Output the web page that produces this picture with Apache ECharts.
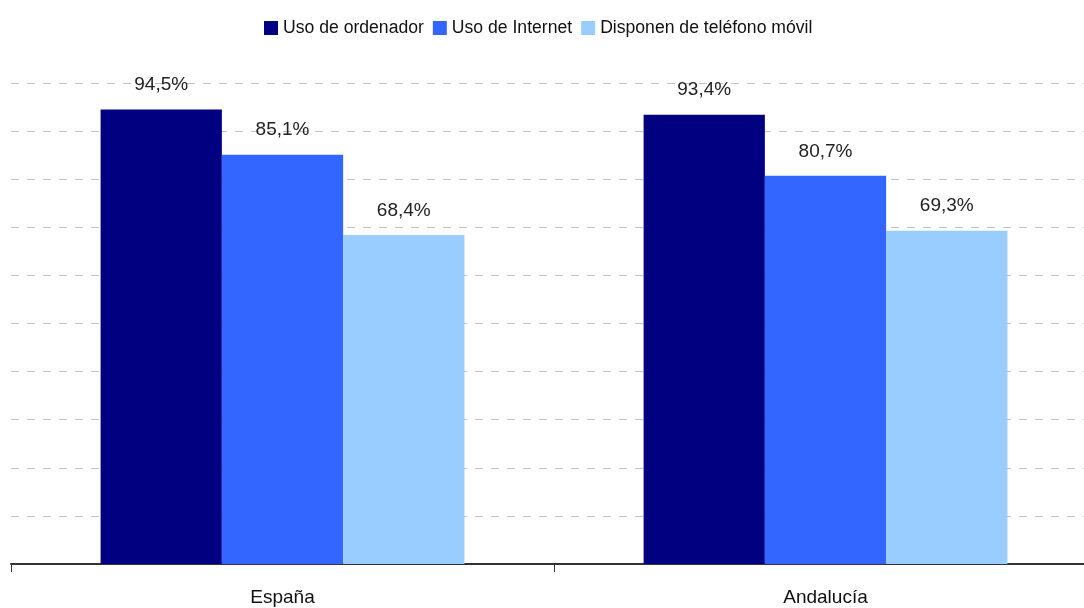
<!DOCTYPE html>
<html>
<head>
<meta charset="utf-8">
<script src="https://cdn.jsdelivr.net/npm/echarts@6/dist/echarts.min.js"></script>
<style>
  html, body { margin: 0; padding: 0; background: #fff; overflow: hidden; }
  /* the plot area runs a little past the right edge of the window */
  #chart { width: 1097px; height: 608px; }
</style>
</head>
<body>
<div id="chart"></div>
<script>
const regions = ["España", "Andalucía"];
const seriesNames = ["Uso de ordenador", "Uso de Internet", "Disponen de teléfono móvil"];
const ordenador = [94.5, 93.4];
const internet = [85.1, 80.7];
const movil = [68.4, 69.3];
const colors = ["#000080", "#3366ff", "#99ccff"];

const FONT = "'Liberation Sans Narrow', 'Arial Narrow', 'Liberation Sans', sans-serif";

function fmt(v) {
  return v.toFixed(1).replace('.', ',') + '%';
}

const chart = echarts.init(document.getElementById("chart"));

const values = [ordenador, internet, movil];
const series = seriesNames.map((name, i) => ({
  name: name,
  type: 'bar',
  data: values[i],
  barGap: '0%',
  barCategoryGap: '33%',
  itemStyle: { color: colors[i] },
  label: {
    show: true,
    position: 'top',
    distance: 15,
    color: '#222',
    fontFamily: FONT,
    fontSize: 19,
    formatter: p => fmt(p.value)
  }
}));

chart.setOption({
  animation: false,
  textStyle: { fontFamily: FONT },
  legend: {
    top: 14,
    left: 259,
    itemWidth: 14,
    itemHeight: 14,
    itemGap: 9,
    icon: 'rect',
    textStyle: { fontFamily: FONT, fontSize: 17.6, color: '#111' },
    data: seriesNames
  },
  grid: { left: 11, right: 0, top: 83, bottom: 44 },
  xAxis: {
    type: 'category',
    data: regions,
    axisLine: { lineStyle: { color: '#333', width: 2 } },
    axisTick: { show: true, length: 8, lineStyle: { color: '#333' } },
    axisLabel: { fontFamily: FONT, fontSize: 19, color: '#111', margin: 24 }
  },
  yAxis: {
    type: 'value',
    min: 0,
    max: 100,
    interval: 10,
    axisLine: { show: false },
    axisTick: { show: false },
    axisLabel: { show: false },
    splitLine: { lineStyle: { color: '#c0c0c0', type: [8, 8], width: 1 } }
  },
  series: series
});
</script>
</body>
</html>
